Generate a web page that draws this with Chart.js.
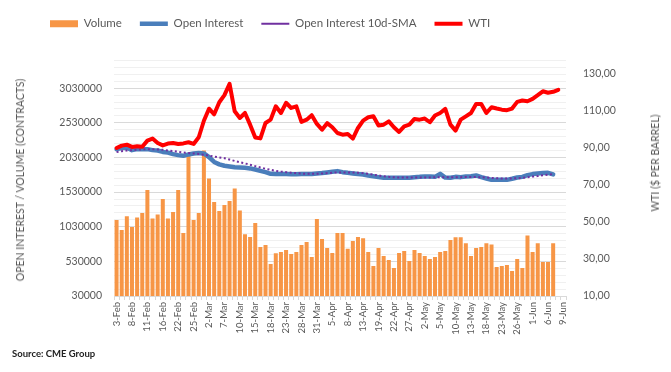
<!DOCTYPE html>
<html>
<head>
<meta charset="utf-8">
<script src="https://cdn.jsdelivr.net/npm/chart.js@4.4.1/dist/chart.umd.min.js"></script>
<style>
  body { margin: 0; background: #fff; }
  #wrap { position: relative; width: 671px; height: 372px; font-family: Lato, "Open Sans", sans-serif; }
  .axis-title { position: absolute; color: #595959; font-size: 10.5px; white-space: nowrap; transform: translate(-50%, -50%) rotate(-90deg); }
  #source { position: absolute; left: 12px; top: 348px; font-size: 9.5px; font-weight: bold; color: #222; }
</style>
</head>
<body>
<div id="wrap">
  <canvas id="oiChart" width="671" height="372"></canvas>
  <div class="axis-title" style="left:20px; top:180px;">OPEN INTEREST / VOLUME (CONTRACTS)</div>
  <div class="axis-title" style="left:655px; top:163px;">WTI ($ PER BARREL)</div>
  <div id="source">Source: CME Group</div>
</div>
<script>
// Datas (dias de pregão)
const categories = [
    '3-Feb','4-Feb','7-Feb','8-Feb','9-Feb','10-Feb','11-Feb','14-Feb','15-Feb','16-Feb','17-Feb','18-Feb','22-Feb','23-Feb','24-Feb','25-Feb','28-Feb',
    '1-Mar','2-Mar','3-Mar','4-Mar','7-Mar','8-Mar','9-Mar','10-Mar','11-Mar','14-Mar','15-Mar','16-Mar','17-Mar','18-Mar','21-Mar','22-Mar','23-Mar','24-Mar','25-Mar','28-Mar','29-Mar','30-Mar','31-Mar',
    '1-Apr','4-Apr','5-Apr','6-Apr','7-Apr','8-Apr','11-Apr','12-Apr','13-Apr','14-Apr','18-Apr','19-Apr','20-Apr','21-Apr','22-Apr','25-Apr','26-Apr','27-Apr','28-Apr','29-Apr',
    '2-May','3-May','4-May','5-May','6-May','9-May','10-May','11-May','12-May','13-May','16-May','17-May','18-May','19-May','20-May','23-May','24-May','25-May','26-May','27-May','31-May',
    '1-Jun','2-Jun','3-Jun','6-Jun','7-Jun','8-Jun','9-Jun'
];

const volume = [
    1126000, 982000, 1180000, 1025000, 1165000, 1227000, 1559000, 1150000, 1208000, 1429000,
    1150000, 1242000, 1559000, 939000, 2064000, 1126000, 1227000, 2131000, 1727000, 1386000,
    1256000, 1342000, 1400000, 1583000, 1266000, 920000, 881000, 1083000, 737000, 766000,
    492000, 646000, 665000, 693000, 636000, 665000, 766000, 809000, 593000, 1141000,
    852000, 722000, 650000, 939000, 939000, 712000, 823000, 881000, 862000, 665000,
    463000, 722000, 607000, 549000, 434000, 650000, 679000, 535000, 693000, 650000,
    607000, 564000, 593000, 665000, 679000, 838000, 877000, 877000, 790000, 607000,
    722000, 737000, 790000, 775000, 448000, 463000, 477000, 391000, 564000, 434000,
    905000, 665000, 790000, 520000, 520000, 790000
];

const openInterest = [
    2150000, 2165000, 2170000, 2136000, 2150000, 2150000, 2150000, 2136000, 2131000, 2110000,
    2100000, 2078000, 2064000, 2054000, 2074000, 2088000, 2093000, 2088000, 2035000, 1965000,
    1930000, 1910000, 1900000, 1890000, 1886000, 1880000, 1872000, 1857000, 1837000, 1818000,
    1794000, 1790000, 1790000, 1790000, 1788000, 1788000, 1790000, 1790000, 1792000, 1800000,
    1805000, 1814000, 1823000, 1833000, 1818000, 1808000, 1800000, 1790000, 1785000, 1770000,
    1760000, 1746000, 1736000, 1736000, 1736000, 1736000, 1736000, 1738000, 1746000, 1750000,
    1756000, 1756000, 1750000, 1794000, 1740000, 1736000, 1750000, 1746000, 1756000, 1760000,
    1770000, 1746000, 1727000, 1707000, 1707000, 1707000, 1707000, 1722000, 1741000, 1750000,
    1775000, 1790000, 1797000, 1805000, 1808000, 1785000
];

const openInterestSma = [
    2110000, 2120000, 2130000, 2135000, 2142000, 2148000, 2150000, 2148000, 2145000, 2140000,
    2132000, 2122000, 2112000, 2102000, 2095000, 2088000, 2080000, 2070000, 2058000, 2042000,
    2030000, 2020000, 2000000, 1980000, 1962000, 1944000, 1925000, 1905000, 1886000, 1867000,
    1852000, 1837000, 1826000, 1818000, 1810000, 1804000, 1798000, 1794000, 1794000, 1794000,
    1798000, 1804000, 1810000, 1814000, 1814000, 1814000, 1812000, 1810000, 1804000, 1795000,
    1782000, 1770000, 1758000, 1750000, 1744000, 1740000, 1740000, 1740000, 1740000, 1740000,
    1741000, 1742000, 1743000, 1745000, 1746000, 1746000, 1746000, 1746000, 1747000, 1747000,
    1747000, 1745000, 1740000, 1735000, 1730000, 1727000, 1727000, 1727000, 1730000, 1736000,
    1745000, 1754000, 1762000, 1772000, 1782000, 1792000
];

const wti = [
    89.8, 91.1, 91.6, 90.4, 90.7, 90.5, 93.8, 94.9, 92.5, 91.2,
    92.2, 92.5, 92.0, 92.3, 92.9, 92.0, 95.6, 104.5, 111.0, 108.0,
    114.5, 118.3, 124.4, 109.6, 106.0, 108.7, 102.4, 95.5, 95.0, 103.3,
    105.1, 112.3, 108.7, 114.2, 111.4, 112.3, 103.9, 105.1, 107.5, 102.8,
    99.7, 103.2, 101.0, 97.9, 97.0, 97.4, 94.9, 100.6, 104.6, 106.4,
    106.9, 102.0, 102.4, 104.2, 101.0, 98.5, 101.5, 102.4, 105.5, 105.1,
    105.7, 103.7, 107.3, 108.7, 110.9, 102.4, 99.2, 105.1, 106.9, 108.7,
    113.6, 113.6, 108.7, 111.8, 111.1, 110.5, 110.2, 111.1, 114.7, 115.4,
    115.0, 116.3, 118.3, 120.4, 119.6, 120.1, 121.2
];

// Eixos
const leftMajorTicks = [30000, 530000, 1030000, 1530000, 2030000, 2530000, 3030000];
const leftMinorStep = 100000;
const leftMax = 3430000;
const rightTicks = [10, 30, 50, 70, 90, 110, 130];
const rightMax = 137;

Chart.defaults.font.family = 'Lato, "Open Sans", sans-serif';
Chart.defaults.color = '#595959';

// Legenda no topo e deslocada para a esquerda como no original
const legendShift = {
    id: 'legendShift',
    afterLayout(chart) {
        const lg = chart.legend;
        if (!lg) return;
        lg.left = 32;
        lg.top -= 21;
        lg.bottom -= 21;
    }
};

const ctx = document.getElementById('oiChart').getContext('2d');
new Chart(ctx, {
    type: 'bar',
    data: {
        labels: categories,
        datasets: [
            {
                type: 'bar',
                label: 'Volume',
                data: volume,
                backgroundColor: '#F79646',
                borderWidth: 0,
                barPercentage: 0.78,
                categoryPercentage: 1,
                yAxisID: 'y',
                order: 4,
                pointStyle: 'rect'
            },
            {
                type: 'line',
                label: 'Open Interest',
                data: openInterest,
                borderColor: '#4A7EBB',
                backgroundColor: '#4A7EBB',
                borderWidth: 4.5,
                pointRadius: 0,
                borderJoinStyle: 'round',
                borderCapStyle: 'round',
                yAxisID: 'y',
                order: 3,
                pointStyle: 'line'
            },
            {
                type: 'line',
                label: 'Open Interest 10d-SMA',
                data: openInterestSma,
                borderColor: '#7030A0',
                backgroundColor: '#7030A0',
                borderWidth: 2,
                borderDash: [2, 2.5],
                pointRadius: 0,
                yAxisID: 'y',
                order: 2,
                pointStyle: 'line'
            },
            {
                type: 'line',
                label: 'WTI',
                data: wti,
                borderColor: '#FF0000',
                backgroundColor: '#FF0000',
                borderWidth: 4,
                pointRadius: 0,
                borderJoinStyle: 'round',
                borderCapStyle: 'round',
                yAxisID: 'y1',
                order: 1,
                pointStyle: 'line'
            }
        ]
    },
    options: {
        responsive: false,
        animation: false,
        devicePixelRatio: 1,
        layout: { padding: { top: 21, left: 0, right: 0, bottom: 0 } },
        plugins: {
            tooltip: { enabled: false },
            legend: {
                position: 'top',
                align: 'start',
                labels: {
                    usePointStyle: true,
                    pointStyleWidth: 28,
                    boxHeight: 7,
                    padding: 18,
                    color: '#595959',
                    font: { size: 11.5 },
                    sort: (a, b) => a.datasetIndex - b.datasetIndex
                }
            }
        },
        scales: {
            x: {
                offset: true,
                grid: { offset: true, drawOnChartArea: false, drawTicks: true, tickLength: 4, color: '#d9d9d9' },
                border: { display: true, color: '#d9d9d9' },
                ticks: {
                    autoSkip: false,
                    minRotation: 90,
                    maxRotation: 90,
                    padding: 2,
                    font: { size: 9.5 },
                    callback: (val, i) => (i % 3 === 0 ? categories[i] : '')
                },
                afterFit: (scale) => { scale.height = 76; }
            },
            y: {
                position: 'left',
                min: leftMajorTicks[0],
                max: leftMax,
                border: { display: false },
                grid: {
                    drawTicks: false,
                    color: (c) => (leftMajorTicks.includes(c.tick.value) ? '#d9d9d9' : '#f0f0f0')
                },
                ticks: {
                    autoSkip: false,
                    padding: 12,
                    font: { size: 10.5 },
                    callback: (v) => (leftMajorTicks.includes(v) ? String(v) : '')
                },
                afterBuildTicks: (scale) => {
                    const t = [];
                    for (let v = leftMajorTicks[0]; v <= leftMax; v += leftMinorStep) t.push({ value: v });
                    scale.ticks = t;
                },
                afterFit: (scale) => { scale.width = 114; }
            },
            y1: {
                position: 'right',
                min: rightTicks[0],
                max: rightMax,
                border: { display: false },
                grid: { drawOnChartArea: false, drawTicks: false },
                ticks: {
                    autoSkip: false,
                    padding: 17,
                    font: { size: 10.5 },
                    callback: (v) => v.toFixed(2).replace('.', ',')
                },
                afterBuildTicks: (scale) => {
                    scale.ticks = rightTicks.map(v => ({ value: v }));
                },
                afterFit: (scale) => { scale.width = 105; }
            }
        }
    },
    plugins: [legendShift]
});
</script>
</body>
</html>
